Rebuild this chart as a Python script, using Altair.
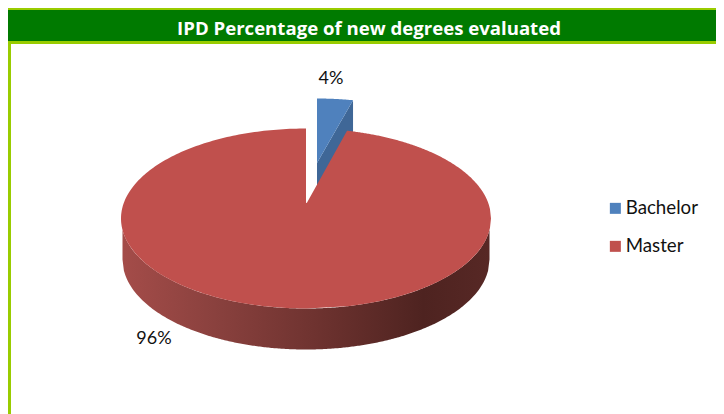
import numpy as np
import pandas as pd
import altair as alt

# --- values
categories = ["Bachelor", "Master"]
shares = [4, 96]
colors = ["#4F81BD", "#C0504D"]
title_text = "IPD Percentage of new degrees evaluated"

# --- layout (page pixels)
W, H = 708, 406
CX, CY, RX, RY = 306.0, 218.5, 185.0, 90.0
DEPTH = 41.0
APEX = (306.8, 203.0)
B_DX, B_DY = 11.0, -30.0
B_APEX = (317.0, 163.0)
M_FORESHORTEN, B_FORESHORTEN = 0.89, 0.78

X = alt.Scale(domain=[8, 716], range=[0, W])
Y = alt.Scale(domain=[414, 8], range=[H, 0])


def top(x, cx=CX, cy=CY, rx=RX, ry=RY):
    return cy - ry * np.sqrt(np.clip(1 - ((x - cx) / rx) ** 2, 0, 1))


def bottom(x, cx=CX, cy=CY, rx=RX, ry=RY):
    return cy + ry * np.sqrt(np.clip(1 - ((x - cx) / rx) ** 2, 0, 1))


wedge_deg = shares[0] / sum(shares) * 360
m_edge = CX + RX * np.sin(np.radians(wedge_deg * M_FORESHORTEN))
b_left = CX + B_DX
b_edge = b_left + RX * np.sin(np.radians(wedge_deg * B_FORESHORTEN))

# Master top face (ellipse minus the Bachelor wedge)
xl = CX - RX + RX * (1 - np.cos(np.linspace(0, np.pi / 2, 90)))
xr = np.linspace(m_edge, CX + RX, 140)
mx = np.concatenate([xl, [CX + 0.01, APEX[0]], xr])
mtop = np.concatenate([top(xl), [APEX[1] - 0.2, APEX[1]], top(xr)])
mbot = bottom(mx)
master = pd.DataFrame({"px": mx, "py": mtop, "py2": mbot, "degree": categories[1]})

# Side wall
wx = np.linspace(CX - RX + 1.5, CX + RX - 1.5, 260)
wall = pd.DataFrame({
    "px": wx,
    "py": bottom(wx),
    "py2": bottom(wx, cy=CY + DEPTH, rx=RX - 1.5),
})

# Bachelor top face and cut side
bx = np.linspace(b_left, b_edge, 30)
edge = B_APEX[1] + (bx - b_left) / (b_edge - b_left) * (top(b_edge, cx=b_left, cy=CY + B_DY) - B_APEX[1])
bach = pd.DataFrame({"px": bx, "py": top(bx, cx=b_left, cy=CY + B_DY), "py2": edge, "degree": categories[0]})
side = pd.DataFrame({"px": bx, "py": edge, "py2": edge + DEPTH + 1})

enc = dict(
    x=alt.X("px:Q", scale=X, axis=None),
    y=alt.Y("py:Q", scale=Y, axis=None),
    y2=alt.Y2("py2:Q"),
)
color = alt.Color(
    "degree:N",
    scale=alt.Scale(domain=categories, range=colors),
    legend=alt.Legend(
        title=None, orient="none", legendX=598, legendY=191,
        symbolType="square", symbolSize=121, symbolStrokeWidth=0,
        labelFont="Lato", labelFontSize=18.7, labelColor="#111111",
        labelOffset=1, rowPadding=18, padding=0,
    ),
)

wall_layer = alt.Chart(wall).mark_area(
    orient="vertical",
    color=alt.Gradient(
        gradient="linear", x1=0, x2=1, y1=0, y2=0,
        stops=[
            alt.GradientStop(color="#A44C49", offset=0),
            alt.GradientStop(color="#8A413E", offset=0.25),
            alt.GradientStop(color="#6F3330", offset=0.52),
            alt.GradientStop(color="#4E2320", offset=0.82),
            alt.GradientStop(color="#572825", offset=1),
        ],
    )
).encode(**enc)
side_layer = alt.Chart(side).mark_area(orient="vertical", color="#3F6797").encode(**enc)
bach_layer = alt.Chart(bach).mark_area(orient="vertical").encode(color=color, **enc)
master_layer = alt.Chart(master).mark_area(orient="vertical").encode(color=color, **enc)


def band(x0, x1, y0, y1, c):
    return alt.Chart(pd.DataFrame({"k": [0]})).mark_rect(color=c).encode(
        x=alt.value(x0 - 8), x2=alt.value(x1 - 8), y=alt.value(y0 - 8), y2=alt.value(y1 - 8)
    )


def label(text, px, py, font, size, col, weight="normal"):
    return alt.Chart(pd.DataFrame({"t": [text]})).mark_text(
        font=font, fontSize=size, color=col, fontWeight=weight, align="center", baseline="middle"
    ).encode(x=alt.value(px - 8), y=alt.value(py - 8), text="t:N")


chart = alt.layer(
    band(8, 716, 8, 44, "#99CC00"),
    band(8, 716, 10, 41, "#007A00"),
    band(8, 11, 44, 414, "#99CC00"),
    wall_layer,
    side_layer,
    bach_layer,
    master_layer,
    label(f"{shares[0]}%", 331, 79, "Lato", 18, "#111111"),
    label(f"{shares[1]}%", 154, 339, "Lato", 18, "#111111"),
    label(title_text, 369, 29, "Open Sans", 18.6, "#FFFFFF", "bold"),
).properties(
    width=W, height=H, padding=0, autosize=alt.AutoSizeParams(type="none"),
    background="#FFFFFF",
).configure_view(stroke=None)

chart.save("out.html", embed_options={"renderer": "svg", "actions": False})
